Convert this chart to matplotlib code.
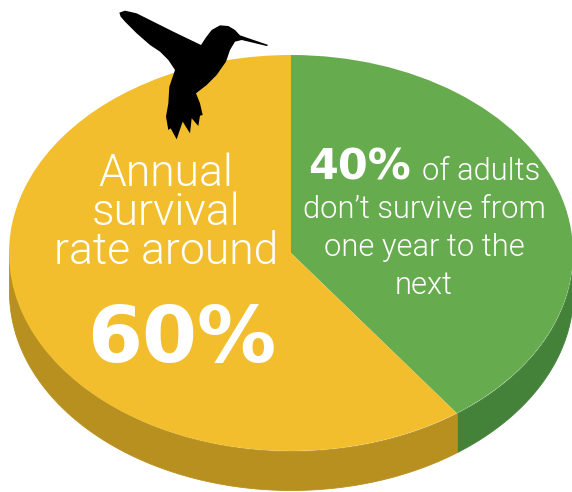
import numpy as np
import matplotlib
matplotlib.use("Agg")
import matplotlib.pyplot as plt
from matplotlib.patches import Polygon

categories = ["Do not survive", "Survive"]
shares = [40, 60]
top_colors = ["#67AB4F", "#F2BE2E"]
side_colors = ["#44823A", "#B8901F"]

W, H = 572, 492
CX, CY, RX, RY, DEPTH = 291, 253, 282, 198, 39

fig = plt.figure(figsize=(W / 100, H / 100), dpi=100, facecolor="white")

# Pie axes: unit circle stretched into a tilted ellipse
ax = fig.add_axes([0, 0, 1, 1])
depth = DEPTH / RY

# Side wall of the disc, drawn from the same shares as the top face
edges = np.cumsum([0] + shares) / sum(shares) * 2 * np.pi
for start, stop, color in zip(edges[:-1], edges[1:], side_colors):
    t = np.linspace(start, stop, 300)
    x = np.sin(t)
    y = np.cos(t)
    front = y <= 0
    ax.fill_between(x[front], y[front], y[front] - depth, color=color, lw=0.6, zorder=1)

ax.pie(shares, colors=top_colors, startangle=90, counterclock=False,
       radius=1, center=(0, 0), wedgeprops={"linewidth": 0, "zorder": 2})
ax.set_aspect("auto")
ax.set_xlim((0 - CX) / RX, (W - CX) / RX)
ax.set_ylim((CY - H) / RY, (CY - 0) / RY)
ax.axis("off")

# Overlay axes in pixel units for the silhouette and captions
ov = fig.add_axes([0, 0, 1, 1], facecolor="none")
ov.set_xlim(0, W)
ov.set_ylim(H, 0)
ov.axis("off")

bird = np.array([
    (58, 38), (75, 32), (110, 40), (160, 65), (220, 95), (303, 135), (318, 112),
    (335, 90), (360, 76), (385, 78), (405, 90), (420, 106), (505, 135), (500, 138),
    (425, 120), (405, 125), (390, 150), (378, 185), (350, 225), (320, 255), (288, 280),
    (300, 310), (308, 345), (300, 347), (295, 378), (275, 355), (270, 400), (248, 365),
    (230, 418), (212, 385), (205, 390), (198, 350), (205, 310), (208, 260), (225, 210),
    (205, 180), (180, 155), (150, 135), (110, 100), (75, 65), (62, 50),
], dtype=float) / 3 + (100, 0)
ov.add_patch(Polygon(bird, closed=True, fc="black", ec="none", zorder=5))

light = dict(color="white", family="Roboto", fontweight=300, ha="center", va="baseline", zorder=6)
bold = dict(color="white", family="DejaVu Sans", fontweight="bold", va="baseline", zorder=6)

for text, y in zip(["Annual", "survival", "rate around"], [186.5, 225, 264]):
    ov.text(166, y, text, fontsize=32, **light)
ov.text(182, 362, "60%", fontsize=57, ha="center", **bold)

ov.text(308, 179.5, "40%", fontsize=31, ha="left", **bold)
ov.text(481, 180, "of adults", fontsize=22.2, **light)
for text, y in zip(["don\u2019t survive from", "one year to the", "next"], [218, 256, 294]):
    ov.text(424, y, text, fontsize=22.2, **light)

fig.savefig("out.png", dpi=100, facecolor="white")
